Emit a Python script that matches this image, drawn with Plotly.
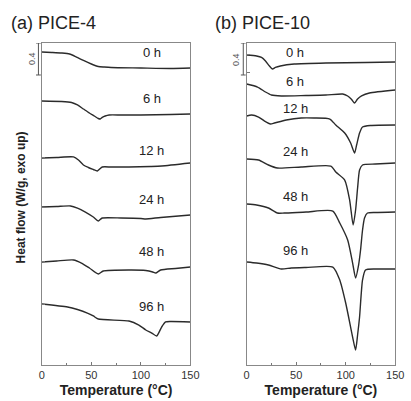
import plotly.graph_objects as go

# ---------------- data (Heat flow relative to each curve's start, W/g) ----------------
labels = ["0 h", "6 h", "12 h", "24 h", "48 h", "96 h"]

# Panel (a) PICE-4
a_T = [
    [0, 10, 20, 28, 35, 42, 50, 57, 63, 70, 100, 130, 150],
    [0, 20, 30, 36, 42, 48, 53, 57, 59, 61, 64, 68, 80, 100, 130, 150],
    [0, 15, 32, 37, 42, 47, 52, 56, 61, 70, 88, 110, 121, 150],
    [0, 15, 29, 36, 44, 52, 57, 61, 80, 100, 105, 120, 150],
    [0, 15, 32, 40, 48, 57, 62, 88, 105, 112, 115, 120, 135, 150],
    [0, 26, 36, 46, 52, 57, 88, 98, 105, 111, 116, 121, 125, 130, 150],
]
a_hf = [
    [0, -0.006, -0.013, -0.025, -0.063, -0.106, -0.150, -0.181, -0.188, -0.194, -0.200, -0.206, -0.200],
    [0, -0.006, -0.019, -0.05, -0.1, -0.15, -0.188, -0.219, -0.225, -0.206, -0.188, -0.175, -0.175, -0.175, -0.169, -0.163],
    [0, 0.006, 0.013, -0.025, -0.088, -0.119, -0.144, -0.163, -0.113, -0.113, -0.113, -0.106, -0.1, -0.063],
    [0, 0.006, 0.013, -0.013, -0.063, -0.125, -0.175, -0.138, -0.138, -0.144, -0.15, -0.131, -0.1],
    [0, 0.013, 0.025, -0.013, -0.075, -0.15, -0.113, -0.1, -0.106, -0.125, -0.138, -0.1, -0.081, -0.063],
    [0, -0.038, -0.069, -0.113, -0.15, -0.188, -0.213, -0.263, -0.325, -0.363, -0.4, -0.288, -0.225, -0.219, -0.225],
]
a_offset = [3.9125, 3.3, 2.5875, 1.975, 1.2875, 0.7625]

# Panel (b) PICE-10
b_T = [
    [0, 10, 15, 19, 23, 26, 29, 34, 48, 80, 120, 150],
    [0, 11, 19, 25, 35, 60, 80, 97, 102, 106, 109, 112, 116, 124, 150],
    [0, 5, 12, 18, 24, 28, 40, 55, 68, 84, 90, 99, 105, 109, 111, 114, 117, 125, 150],
    [0, 12, 22, 31, 55, 85, 90, 99, 104, 107.5, 110, 112, 114, 117, 130, 150],
    [0, 10, 22, 31, 38, 60, 87, 94, 102, 107, 110, 113, 115, 117, 119, 122, 130, 150],
    [0, 10, 22, 35, 45, 60, 87, 94, 100, 107, 110, 112, 114, 117, 120, 130, 150],
]
b_hf = [
    [0, -0.013, -0.031, -0.075, -0.138, -0.175, -0.156, -0.138, -0.113, -0.1, -0.094, -0.088],
    [0, -0.038, -0.1, -0.138, -0.15, -0.144, -0.138, -0.125, -0.15, -0.194, -0.238, -0.188, -0.15, -0.113, -0.075],
    [0, 0.013, -0.013, -0.063, -0.1, -0.088, -0.05, -0.025, -0.025, -0.038, -0.113, -0.213, -0.338, -0.463, -0.363, -0.213, -0.138, -0.119, -0.113],
    [0, -0.013, -0.075, -0.113, -0.1, -0.088, -0.163, -0.263, -0.513, -0.825, -0.638, -0.363, -0.138, -0.075, -0.063, -0.05],
    [0, -0.013, -0.05, -0.113, -0.113, -0.1, -0.088, -0.238, -0.45, -0.738, -0.925, -0.763, -0.575, -0.325, -0.175, -0.113, -0.106, -0.1],
    [0, -0.013, -0.038, -0.088, -0.075, -0.069, -0.063, -0.225, -0.513, -0.938, -1.1, -0.913, -0.688, -0.225, -0.1, -0.088, -0.088],
]
b_offset = [3.875, 3.5125, 3.1125, 2.575, 2.0125, 1.2875]

x_ticks = [0, 50, 100, 150]
scale_bar = 0.4  # W/g

# ---------------- figure ----------------
FONT = "Arial, Liberation Sans, Helvetica, sans-serif"
LINE = "#2b2b2b"
fig = go.Figure()

for T, hf, off in zip(a_T, a_hf, a_offset):
    fig.add_trace(go.Scatter(x=T, y=[v + off for v in hf], mode="lines",
                             line=dict(color=LINE, width=1.4, shape="spline", smoothing=0.6),
                             xaxis="x", yaxis="y", showlegend=False, hoverinfo="skip"))
for T, hf, off in zip(b_T, b_hf, b_offset):
    fig.add_trace(go.Scatter(x=T, y=[v + off for v in hf], mode="lines",
                             line=dict(color=LINE, width=1.4, shape="spline", smoothing=0.6),
                             xaxis="x2", yaxis="y2", showlegend=False, hoverinfo="skip"))

ax_common = dict(range=[0, 150], tickvals=x_ticks, ticks="inside", ticklen=3,
                 tickcolor="#777", linecolor="#888", linewidth=1, mirror=True,
                 showgrid=False, zeroline=False,
                 tickfont=dict(family=FONT, size=11, color="#333"),
                 minor=dict(tickvals=[25, 75, 125], ticks="inside", ticklen=2, tickcolor="#777"),
                 title=dict(text="<b>Temperature (°C)</b>", font=dict(family=FONT, size=14, color="#222"),
                            standoff=5))
ay_common = dict(range=[0, 4.025], showticklabels=False, ticks="inside", ticklen=3,
                 tickcolor="#777", linecolor="#888", linewidth=1, mirror=True,
                 showgrid=False, zeroline=False)

fig.update_layout(
    width=411, height=401,
    margin=dict(l=0, r=0, t=0, b=0),
    paper_bgcolor="white", plot_bgcolor="white",
    xaxis=dict(domain=[0.0973, 0.4696], anchor="y", **ax_common),
    xaxis2=dict(domain=[0.6107, 0.983], anchor="y2", **ax_common),
    yaxis=dict(domain=[0.0898, 0.8928], anchor="x", tickvals=[2.588, 1.963, 1.288, 0.75], **ay_common),
    yaxis2=dict(domain=[0.0898, 0.8928], anchor="x2", tickvals=[3.875, 3.65], **ay_common),
)

ann = []
# curve labels
a_lab_y = [3.9, 3.325, 2.675, 2.0625, 1.4125, 0.725]
b_lab_y = [3.9, 3.5375, 3.2, 2.6625, 2.1, 1.425]
for lab, y in zip(labels, a_lab_y):
    ann.append(dict(x=111, y=y, xref="x", yref="y", text=lab, showarrow=False,
                    xanchor="center", yanchor="middle",
                    font=dict(family=FONT, size=13, color="#222")))
for lab, y in zip(labels, b_lab_y):
    ann.append(dict(x=49, y=y, xref="x2", yref="y2", text=lab, showarrow=False,
                    xanchor="center", yanchor="middle",
                    font=dict(family=FONT, size=13, color="#222")))

# panel titles
ann.append(dict(x=6 / 411, y=1 - 23 / 401, xref="paper", yref="paper", xanchor="left", yanchor="middle",
                text="(a) PICE-4", showarrow=False, font=dict(family=FONT, size=18, color="#222")))
ann.append(dict(x=216 / 411, y=1 - 23 / 401, xref="paper", yref="paper", xanchor="left", yanchor="middle",
                text="(b) PICE-10", showarrow=False, font=dict(family=FONT, size=18, color="#222")))
# y title
ann.append(dict(x=19 / 411, y=1 - 197 / 401, xref="paper", yref="paper", text="<b>Heat flow (W/g, exo up)</b>",
                xanchor="center", yanchor="middle",
                textangle=-90, showarrow=False, font=dict(family=FONT, size=12, color="#222")))

# scale bars
shapes = []
top = 4.025
for xpix, lpix in [(36.5, 30), (247.5, 240)]:
    xp = xpix / 411
    shapes.append(dict(type="line", xref="paper", yref="y", x0=xp, x1=xp, y0=top, y1=top - scale_bar,
                       line=dict(color="#555", width=1)))
    for yy in (top, top - scale_bar):
        shapes.append(dict(type="line", xref="paper", yref="y", x0=xp - 2.5 / 411, x1=xp + 2.5 / 411,
                           y0=yy, y1=yy, line=dict(color="#555", width=1)))
    ann.append(dict(x=lpix / 411, y=top - scale_bar / 2, xref="paper", yref="y", text=str(scale_bar),
                    xanchor="center", yanchor="middle",
                    textangle=-90, showarrow=False, font=dict(family=FONT, size=9, color="#555")))

fig.update_layout(annotations=ann, shapes=shapes)
fig.write_html("out.html", config={"displayModeBar": False},
               post_script="document.body.style.margin='0';document.body.style.overflow='hidden';")
